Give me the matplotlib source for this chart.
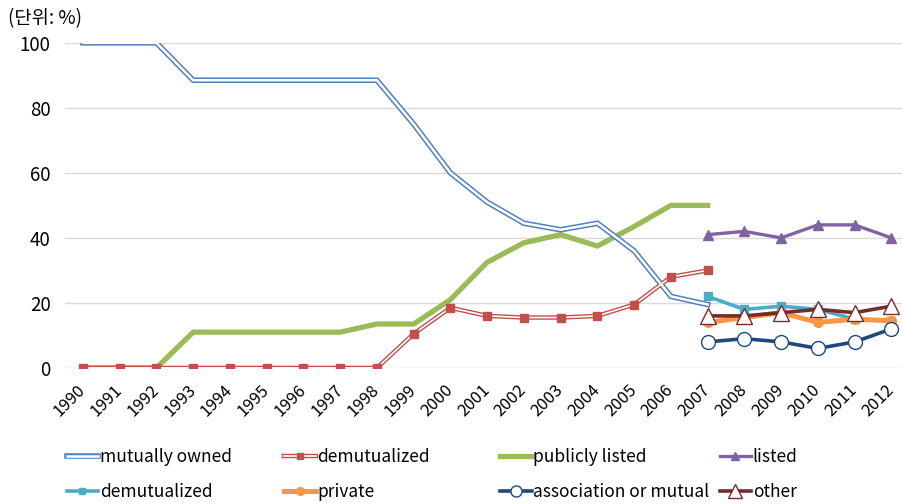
import numpy as np
import matplotlib
matplotlib.use("Agg")
import matplotlib.pyplot as plt
from matplotlib.transforms import ScaledTranslation

plt.rcParams['font.family'] = ['Noto Sans CJK KR', 'DejaVu Sans']

years = [str(y) for y in range(1990, 2013)]
nan = np.nan

# 1990-2007 series
mutually_owned = [100, 100, 100, 88.5, 88.5, 88.5, 88.5, 88.5, 88.5, 75, 60, 51, 44.5, 42.5, 44.5, 36, 22, 19.5,
                  nan, nan, nan, nan, nan]
demutualized_a = [0, 0, 0, 0, 0, 0, 0, 0, 0, 10.5, 18.5, 16, 15.5, 15.5, 16, 19.5, 28, 30,
                  nan, nan, nan, nan, nan]
publicly_listed = [0, 0, 0, 11, 11, 11, 11, 11, 13.5, 13.5, 21, 32.5, 38.5, 41, 37.5, 43.5, 50, 50,
                   nan, nan, nan, nan, nan]

# 2007-2012 series
pad = [nan] * 17
listed = pad + [41, 42, 40, 44, 44, 40]
demutualized_b = pad + [22, 18, 19, 18, 15, 14.5]
private = pad + [14, 15.5, 17, 14, 15, 14.5]
association = pad + [8, 9, 8, 6, 8, 12]
other = pad + [16, 16, 17, 18, 17, 19]

yticks = [0, 20, 40, 60, 80, 100]
unit_label = "(단위: %)"

BLUE = "#4F81BD"
RED = "#C0504D"
GREEN = "#9BBB59"
PURPLE = "#8064A2"
CYAN = "#4BACC6"
ORANGE = "#F79646"
NAVY = "#1F497D"
MAROON = "#772C2A"

fig = plt.figure(figsize=(9.03, 5.04), dpi=100)
ax = fig.add_axes([0.0715, 0.270, 0.936, 0.645])

x = np.arange(len(years))

# mutually owned: hollow double line
mo_out, = ax.plot(x, mutually_owned, color=BLUE, lw=4.0, solid_joinstyle='miter', zorder=3)
mo_in, = ax.plot(x, mutually_owned, color='white', lw=1.8, solid_joinstyle='miter', zorder=3.1)

# demutualized (1990-2007): hollow double line with square markers
dm_out, = ax.plot(x, demutualized_a, color=RED, lw=3.2, zorder=3)
dm_in, = ax.plot(x, demutualized_a, color='white', lw=1.2, zorder=3.1)
dm_mk, = ax.plot(x, demutualized_a, color=RED, ls='none', marker='s', ms=6, zorder=3.2)

pl, = ax.plot(x, publicly_listed, color=GREEN, lw=3.8, zorder=2.5)

li, = ax.plot(x, listed, color=PURPLE, lw=2.4, marker='^', ms=7, zorder=3)
db, = ax.plot(x, demutualized_b, color=CYAN, lw=2.6, marker='s', ms=6, zorder=3)
pr, = ax.plot(x, private, color=ORANGE, lw=3.6, marker='o', ms=7, zorder=3.3)
asn, = ax.plot(x, association, color=NAVY, lw=2.6, marker='o', ms=10,
               mfc='white', mec=NAVY, mew=1.0, zorder=3.4)
ot, = ax.plot(x, other, color=MAROON, lw=2.6, marker='^', ms=12,
              mfc='white', mec=MAROON, mew=1.0, zorder=3.5)

ax.set_ylim(0, 100)
ax.set_xlim(-0.5, 22.5)
ax.set_yticks(yticks)
ax.set_yticklabels([str(v) for v in yticks], fontsize=13.5)
ax.set_xticks(x)
ax.set_xticklabels(years, rotation=45, ha='right', va='center',
                   rotation_mode='anchor', fontsize=12)
shift = ScaledTranslation(4 / 100, 0, fig.dpi_scale_trans)
for lbl in ax.get_xticklabels():
    lbl.set_transform(lbl.get_transform() + shift)
ax.tick_params(axis='both', length=0)
ax.tick_params(axis='y', pad=10)
ax.tick_params(axis='x', pad=14)
ax.grid(axis='y', color='#D9D9D9', lw=1.0)
ax.set_axisbelow(True)
for s in ax.spines.values():
    s.set_visible(False)
ax.patch.set_alpha(0)

fig.text(0.009, 0.964, unit_label, fontsize=13.5, ha='left', va='center')

entries = [
    ((mo_out, mo_in), "mutually owned", 0.074, 0.093),
    ((dm_out, dm_in, dm_mk), "demutualized", 0.315, 0.093),
    (pl, "publicly listed", 0.554, 0.093),
    (li, "listed", 0.797, 0.093),
    (db, "demutualized", 0.074, 0.024),
    (pr, "private", 0.315, 0.024),
    (asn, "association or mutual", 0.554, 0.024),
    (ot, "other", 0.797, 0.024),
]
for h, lab, lx, ly in entries:
    fig.legend([h], [lab], loc='center left', bbox_to_anchor=(lx, ly),
               frameon=False, handlelength=1.8, handletextpad=0.1,
               borderpad=0, borderaxespad=0, markerscale=0.8,
               prop={'family': ['Noto Sans CJK KR', 'DejaVu Sans'], 'size': 12.5})

fig.savefig("out.png", dpi=100)
